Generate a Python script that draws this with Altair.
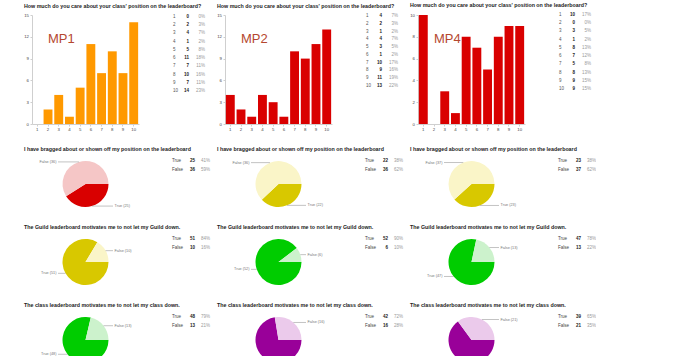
import math
import altair as alt
import pandas as pd

FONT = "Liberation Sans"

# ---------------- data ----------------
ratings = [1, 2, 3, 4, 5, 6, 7, 8, 9, 10]
mp1_counts = [0, 2, 4, 1, 5, 11, 7, 10, 7, 14]
mp2_counts = [4, 2, 1, 4, 3, 1, 10, 9, 11, 13]
mp4_counts = [10, 0, 3, 1, 8, 7, 5, 8, 9, 9]
mp_names = ["MP1", "MP2", "MP4"]
bar_question = "How much do you care about your class' position on the leaderboard?"
bar_ymax = [15, 15, 10]
bar_ystep = [3, 3, 2]

answers = ["True", "False"]
brag_q = "I have bragged about or shown off my position on the leaderboard"
brag_counts = [[25, 36], [22, 36], [23, 37]]
guild_q = "The Guild leaderboard motivates me to not let my Guild down."
guild_counts = [[51, 10], [52, 6], [47, 13]]
class_q = "The class leaderboard motivates me to not let my class down."
class_counts = [[48, 13], [42, 16], [39, 21]]

# ---------------- styles ----------------
ORANGE = "#ff9900"
RED = "#d90000"
PINK = "#f5c6c6"
YEL = "#d8c800"
LYEL = "#faf5c8"
GRN = "#00cc00"
LGRN = "#ccf2cc"
PUR = "#990099"
LPUR = "#ebcaeb"
bar_colors = [ORANGE, RED, RED]
brag_colors = [(RED, PINK), (YEL, LYEL), (YEL, LYEL)]
guild_colors = [(YEL, LYEL), (GRN, LGRN), (GRN, LGRN)]
class_colors = [(GRN, LGRN), (PUR, LPUR), (PUR, LPUR)]
table_ranges = [[2, 76], [1, 71], [0, 74]]

W = 107      # plot width of every panel
H1 = 109     # bar plot height
H2 = 41      # pie row height
R = 23       # pie radius (px)
PIE_TOP = 23 # pie centre below the row top (px)
LX = 29.0    # label distance from centre (px)


def ttl(text, offset):
    return alt.TitleParams(text=text, anchor="start", frame="group", dx=-8,
                           offset=offset, fontSize=5.3, fontWeight="bold",
                           font=FONT, color="#222222")


def bar_panel(counts, color, ymax, ystep, name, trange):
    df = pd.DataFrame({"rating": ratings, "count": counts})
    base = alt.Chart(df)
    ax = dict(title=None, labelFont=FONT, labelFontSize=4.3, labelColor="#444444",
              domainColor="#cfcfcf", tickColor="#cfcfcf", tickSize=2,
              labelPadding=1.5, grid=False)
    bars = base.mark_bar(color=color).encode(
        x=alt.X("rating:O", scale=alt.Scale(paddingInner=0.17, paddingOuter=0.08),
                axis=alt.Axis(labelAngle=0, **ax)),
        y=alt.Y("count:Q", scale=alt.Scale(domain=[0, ymax], nice=False),
                axis=alt.Axis(values=list(range(0, ymax + 1, ystep)), **ax)),
    )
    mp = alt.Chart(pd.DataFrame({"name": [name]})).mark_text(
        align="left", baseline="middle", font=FONT, fontSize=13, color="#b5472f"
    ).encode(text="name:N", x=alt.value(16), y=alt.value(24))

    tb = base.transform_joinaggregate(total="sum(count)").transform_calculate(
        pct="round(datum.count / datum.total * 100) + '%'")
    ty = alt.Y("rating:O", axis=None,
               scale=alt.Scale(type="point", range=trange, padding=0))
    tl = tb.mark_text(align="left", baseline="middle", font=FONT, fontSize=4.5,
                      color="#555555").encode(x=alt.value(141), y=ty, text="rating:O")
    tc = tb.mark_text(align="right", baseline="middle", font=FONT, fontSize=4.5,
                      fontWeight="bold", color="#222222").encode(
        x=alt.value(157), y=ty, text="count:Q")
    tp = tb.mark_text(align="right", baseline="middle", font=FONT, fontSize=4.5,
                      color="#999999").encode(x=alt.value(173), y=ty, text="pct:N")
    return alt.layer(alt.layer(bars, mp), alt.layer(tl, tc, tp)).resolve_scale(
        y="independent").properties(width=W, height=H1, title=ttl(bar_question, 4))


def pie_panel(counts, colors, question, clip=False):
    dark, light = colors
    df = pd.DataFrame({"answer": answers, "count": counts, "idx": [0, 1]})
    base = alt.Chart(df).transform_joinaggregate(total="sum(count)").transform_window(
        cum="sum(count)", sort=[alt.SortField("idx")], frame=[None, 0]
    ).transform_calculate(
        mid="2 * PI * (datum.cum - datum.count / 2) / datum.total + PI / 2",
    ).transform_calculate(
        ex="sin(datum.mid)", ey="cos(datum.mid)",
    ).transform_calculate(
        side="datum.ex >= 0 ? 1 : -1",
    ).transform_calculate(
        lx=f"datum.side * {LX / R}",
        rx2=f"datum.side * {(LX - 1.5) / R}",
        lab="datum.answer + ' (' + datum.count + ')'",
        pct="round(datum.count / datum.total * 100) + '%'",
    )
    xs = alt.Scale(domain=[-W / 2 / R, W / 2 / R], nice=False, zero=False)
    ys = alt.Scale(domain=[-(H2 - PIE_TOP) / R, PIE_TOP / R], nice=False, zero=False)

    arc = base.mark_arc(outerRadius=R, clip=clip).encode(
        theta=alt.Theta("count:Q", stack=True,
                        scale=alt.Scale(range=[math.pi / 2, math.pi / 2 + 2 * math.pi])),
        color=alt.Color("answer:N", scale=alt.Scale(domain=answers, range=[dark, light]),
                        legend=None),
        order=alt.Order("idx:Q"),
        x=alt.X(datum=0, type="quantitative", scale=xs, axis=None),
        y=alt.Y(datum=0, type="quantitative", scale=ys, axis=None),
    )
    rules = base.mark_rule(color="#9a9a9a", strokeWidth=0.6, clip=clip).encode(
        x=alt.X("ex:Q", scale=xs, axis=None), x2="rx2:Q",
        y=alt.Y("ey:Q", scale=ys, axis=None),
    )
    lab_r = base.transform_filter("datum.side > 0").mark_text(
        align="left", baseline="middle", font=FONT, fontSize=3.8, color="#777777",
        clip=clip).encode(x=alt.X("lx:Q", scale=xs, axis=None),
                          y=alt.Y("ey:Q", scale=ys, axis=None), text="lab:N")
    lab_l = base.transform_filter("datum.side < 0").mark_text(
        align="right", baseline="middle", font=FONT, fontSize=3.8, color="#777777",
        clip=clip).encode(x=alt.X("lx:Q", scale=xs, axis=None),
                          y=alt.Y("ey:Q", scale=ys, axis=None), text="lab:N")

    ty = alt.Y("idx:O", axis=None, scale=alt.Scale(type="point", range=[0, 8.5], padding=0))
    t1 = base.mark_text(align="left", baseline="middle", font=FONT, fontSize=4.5,
                        color="#444444").encode(x=alt.value(140), y=ty, text="answer:N")
    t2 = base.mark_text(align="right", baseline="middle", font=FONT, fontSize=4.5,
                        fontWeight="bold", color="#222222").encode(
        x=alt.value(163), y=ty, text="count:Q")
    t3 = base.mark_text(align="right", baseline="middle", font=FONT, fontSize=4.5,
                        color="#999999").encode(x=alt.value(178), y=ty, text="pct:N")
    return alt.layer(alt.layer(arc, rules, lab_r, lab_l), alt.layer(t1, t2, t3)).resolve_scale(
        y="independent").properties(width=W, height=H2, title=ttl(question, 6))


bar_counts = [mp1_counts, mp2_counts, mp4_counts]
panels = []
for i in range(3):
    panels.append(bar_panel(bar_counts[i], bar_colors[i], bar_ymax[i], bar_ystep[i],
                            mp_names[i], table_ranges[i]))
for i in range(3):
    panels.append(pie_panel(brag_counts[i], brag_colors[i], brag_q))
for i in range(3):
    panels.append(pie_panel(guild_counts[i], guild_colors[i], guild_q))
for i in range(3):
    panels.append(pie_panel(class_counts[i], class_colors[i], class_q, clip=True))

chart = alt.concat(
    *panels, columns=3, spacing={"row": 37, "column": 86}, bounds="flush"
).resolve_scale(
    color="independent", theta="independent", x="independent", y="independent"
).properties(
    padding={"left": 23, "top": 2, "right": 0, "bottom": 0},
    background="white",
).configure_view(stroke=None)

chart.save("out.html", embed_options={"renderer": "svg", "actions": False})
